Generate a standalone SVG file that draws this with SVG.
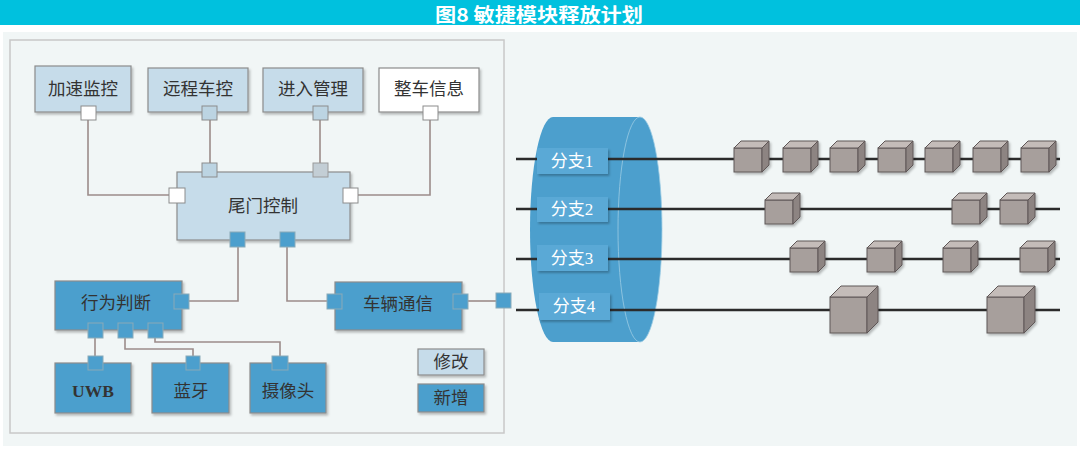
<svg xmlns="http://www.w3.org/2000/svg" width="1080" height="450" viewBox="0 0 1080 450">
<style>
.t{font-family:"Liberation Serif","Noto Sans CJK SC",serif;font-size:17.5px;fill:#333;text-anchor:middle;dominant-baseline:central}
.lb{fill:#c6dcea;stroke:#8c8c8c;stroke-width:1.2}
.db{fill:#4c9fcd;stroke:#8c8c8c;stroke-width:1.2}
.wb{fill:#fff;stroke:#8c8c8c;stroke-width:1.2}
.pw{fill:#fff;stroke:#8c8c8c;stroke-width:1}
.pl{fill:#bcd4e2;stroke:#8c8c8c;stroke-width:1}
.pg{fill:#c3ced5;stroke:#9a9a9a;stroke-width:1}
.pd{fill:#4c9fcd;stroke:#8aaab8;stroke-width:1}
.cn{fill:none;stroke:#9c8c8a;stroke-width:1.6}
.bl{stroke:#2b2b2b;stroke-width:2.5}
.br{fill:#5aa9d6}
.bt{font-family:"Liberation Serif","Noto Sans CJK SC",serif;font-size:17px;fill:#fff;text-anchor:middle;dominant-baseline:central}
.cf{fill:#a79f9c;stroke:#5e5756;stroke-width:1}
.ct{fill:#c4bcb9;stroke:#5e5756;stroke-width:1}
.cs{fill:#8d8482;stroke:#5e5756;stroke-width:1}
</style>
<defs>
<filter id="sh" x="-10%" y="-10%" width="130%" height="140%"><feDropShadow dx="1.5" dy="2" stdDeviation="1" flood-color="#000" flood-opacity="0.25"/></filter>
<g id="c1"><rect class="cf" x="0" y="0" width="28" height="24"/><polygon class="ct" points="0,0 7,-7 35,-7 28,0"/><polygon class="cs" points="28,0 35,-7 35,17 28,24"/></g>
<g id="c2"><rect class="cf" x="0" y="0" width="37" height="36"/><polygon class="ct" points="0,0 11,-11 48,-11 37,0"/><polygon class="cs" points="37,0 48,-11 48,25 37,36"/></g>
</defs>
<rect x="0" y="0" width="1080" height="450" fill="#fff"/>
<rect x="0" y="0" width="1080" height="25" fill="#00c1de"/>
<text x="539" y="13" textLength="208" lengthAdjust="spacingAndGlyphs" style="font-family:'Noto Sans CJK SC',sans-serif;font-size:19px;font-weight:bold;fill:#fff;text-anchor:middle;dominant-baseline:central">图8 敏捷模块释放计划</text>
<rect x="3" y="32" width="1074" height="414" fill="#f1f6f6"/>
<rect x="10" y="40" width="494" height="393" fill="none" stroke="#c8c8c8" stroke-width="1.5"/>

<g id="connectors">
<path class="cn" d="M88,120 V195 H169"/>
<path class="cn" d="M210,120 V163"/>
<path class="cn" d="M320,120 V163"/>
<path class="cn" d="M430,120 V195 H358"/>
<path class="cn" d="M238,247 V301 H189"/>
<path class="cn" d="M287,247 V301 H327"/>
<path class="cn" d="M468,301 H496"/>
<path class="cn" d="M95,338 V356"/>
<path class="cn" d="M125,338 V349 H193 V356"/>
<path class="cn" d="M155,338 V342 H280 V356"/>
</g>

<g id="n-jiasu"><rect class="lb" x="35" y="66" width="96" height="46" filter="url(#sh)"/><text class="t" x="83" y="89">加速监控</text><rect class="pw" x="81" y="106" width="15" height="14"/></g>
<g id="n-yuancheng"><rect class="lb" x="148" y="68" width="100" height="44" filter="url(#sh)"/><text class="t" x="198" y="89">远程车控</text><rect class="pl" x="202" y="106" width="15" height="14"/></g>
<g id="n-jinru"><rect class="lb" x="263" y="68" width="100" height="44" filter="url(#sh)"/><text class="t" x="313" y="89">进入管理</text><rect class="pl" x="313" y="106" width="15" height="14"/></g>
<g id="n-zhengche"><rect class="wb" x="379" y="68" width="100" height="44" filter="url(#sh)"/><text class="t" x="429" y="89">整车信息</text><rect class="pw" x="423" y="106" width="15" height="14"/></g>

<g id="n-weimen"><rect class="lb" x="177" y="172" width="173" height="68" filter="url(#sh)"/><text class="t" x="263" y="206">尾门控制</text>
<rect class="pl" x="202" y="163" width="15" height="14"/><rect class="pg" x="313" y="163" width="15" height="14"/>
<rect class="pw" x="169" y="188" width="16" height="15"/><rect class="pw" x="343" y="188" width="15" height="15"/>
<rect class="pd" x="230" y="232" width="15" height="15"/><rect class="pd" x="280" y="232" width="15" height="15"/></g>

<g id="n-xingwei"><rect class="db" x="55" y="281" width="127" height="49" filter="url(#sh)"/><text class="t" x="116" y="303">行为判断</text>
<rect class="pd" x="174" y="294" width="15" height="15"/>
<rect class="pd" x="88" y="323" width="15" height="15"/><rect class="pd" x="118" y="323" width="15" height="15"/><rect class="pd" x="148" y="323" width="15" height="15"/></g>

<g id="n-cheliang"><rect class="db" x="335" y="282" width="127" height="48" filter="url(#sh)"/><text class="t" x="398" y="304">车辆通信</text>
<rect class="pd" x="327" y="294" width="15" height="15"/><rect class="pd" x="453" y="294" width="15" height="15"/></g>

<g id="n-uwb"><rect class="db" x="55" y="363" width="76" height="50" filter="url(#sh)"/><text class="t" x="93" y="391" style="font-weight:bold">UWB</text><rect class="pd" x="88" y="356" width="15" height="14"/></g>
<g id="n-lanya"><rect class="db" x="152" y="363" width="77" height="50" filter="url(#sh)"/><text class="t" x="191" y="391">蓝牙</text><rect class="pd" x="186" y="356" width="14" height="14"/></g>
<g id="n-shexiang"><rect class="db" x="250" y="363" width="76" height="50" filter="url(#sh)"/><text class="t" x="288" y="391">摄像头</text><rect class="pd" x="272" y="356" width="16" height="14"/></g>

<g id="legend-xiugai"><rect class="lb" x="418" y="349" width="66" height="26" filter="url(#sh)"/><text class="t" x="451" y="362">修改</text></g>
<g id="legend-xinzeng"><rect class="db" x="418" y="384" width="66" height="28" filter="url(#sh)"/><text class="t" x="451" y="398">新增</text></g>

<g id="n-bus-port"><rect class="pd" x="496" y="293" width="15" height="15"/></g>

<g id="bus">
<path d="M553,117 H640 A22,112.5 0 0 1 640,342 H553 A23,112.5 0 0 1 553,117 Z" fill="#4c9fcd"/>
<ellipse cx="640" cy="229.5" rx="22" ry="112.5" fill="none" stroke="#9ccbe3" stroke-width="0.8"/>
</g>

<g id="lines">
<line class="bl" x1="516" y1="159" x2="1060" y2="159"/>
<line class="bl" x1="516" y1="209" x2="1060" y2="209"/>
<line class="bl" x1="516" y1="259" x2="1060" y2="259"/>
<line class="bl" x1="516" y1="310" x2="1060" y2="310"/>
</g>

<g id="n-fenzhi1"><rect class="br" x="537" y="148" width="71" height="26" filter="url(#sh)"/><text class="bt" x="572" y="161">分支1</text></g>
<g id="n-fenzhi2"><rect class="br" x="537" y="197" width="71" height="25" filter="url(#sh)"/><text class="bt" x="572" y="209">分支2</text></g>
<g id="n-fenzhi3"><rect class="br" x="537" y="245" width="71" height="26" filter="url(#sh)"/><text class="bt" x="572" y="258">分支3</text></g>
<g id="n-fenzhi4"><rect class="br" x="539" y="293" width="71" height="27" filter="url(#sh)"/><text class="bt" x="574" y="306">分支4</text></g>

<g id="cubes" filter="url(#sh)">
<use href="#c1" x="734" y="148"/><use href="#c1" x="783" y="148"/><use href="#c1" x="830" y="148"/><use href="#c1" x="878" y="148"/><use href="#c1" x="925" y="148"/><use href="#c1" x="973" y="148"/><use href="#c1" x="1021" y="148"/>
<use href="#c1" x="765" y="200"/><use href="#c1" x="952" y="200"/><use href="#c1" x="1000" y="200"/>
<use href="#c1" x="790" y="248"/><use href="#c1" x="867" y="248"/><use href="#c1" x="943" y="248"/><use href="#c1" x="1020" y="248"/>
<use href="#c2" x="830" y="297"/><use href="#c2" x="987" y="297"/>
</g>
</svg>
